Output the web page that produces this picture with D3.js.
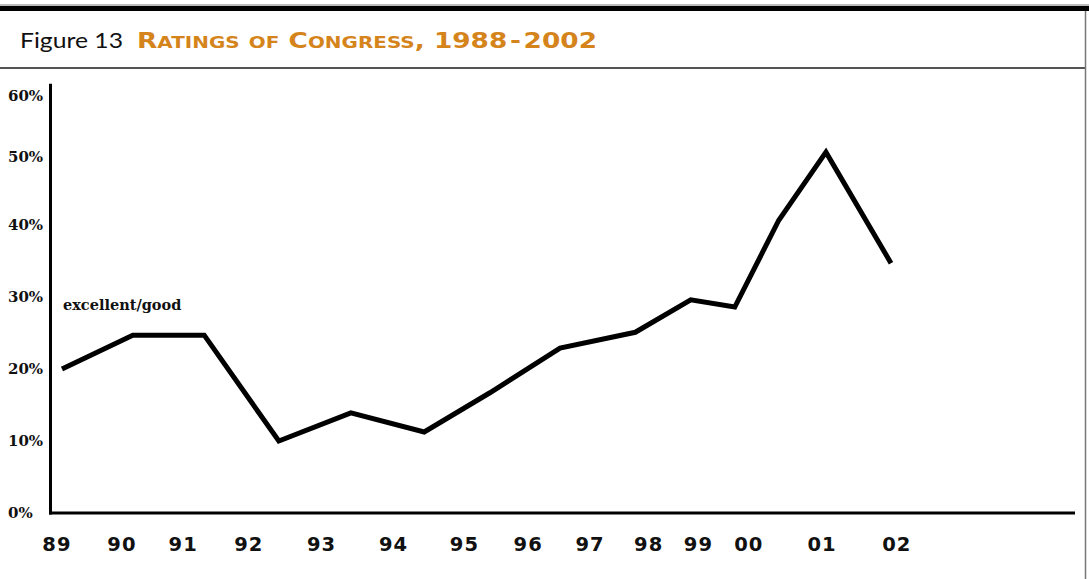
<!DOCTYPE html>
<html>
<head>
<meta charset="utf-8">
<script src="https://cdn.jsdelivr.net/npm/d3@7"></script>
<style>
  html, body { margin: 0; padding: 0; background: #fff; }
  svg { display: block; }
</style>
</head>
<body>
<svg id="chart" width="1089" height="579"></svg>
<script>
// ---- data ----
const yearLabels = ["89","90","91","92","93","94","95","96","97","98","99","00","01","02"];
const labelDate  = [1988.92, 1989.94, 1990.90, 1991.93, 1993.07, 1994.20, 1995.31, 1996.31, 1997.28, 1998.20, 1998.98, 1999.77, 2000.92, 2002.09];
const surveyDate = [1989.00, 1990.11, 1991.23, 1992.40, 1993.53, 1994.68, 1995.71, 1996.81, 1997.99, 1998.86, 1999.55, 2000.24, 2000.98, 2002.00];
const excellentGood = [20.0, 24.7, 24.7, 10.0, 13.9, 11.25, 16.7, 22.9, 25.1, 29.6, 28.6, 40.7, 50.8, 34.7];
const yTicks = [0, 10, 20, 30, 40, 50, 60];
const seriesName = "excellent/good";
const figureLabel = "Figure 13";
const titleText = "Ratings of Congress, 1988 - 2002";

// ---- layout ----
const svg = d3.select("#chart");
const W = 1089, H = 579;

// frame
svg.append("rect").attr("x", 0).attr("y", 0).attr("width", W).attr("height", H).attr("fill", "#fff");
svg.append("line").attr("x1", 0).attr("x2", W).attr("y1", 5).attr("y2", 5).attr("stroke", "#777").attr("stroke-width", 1);
svg.append("rect").attr("x", 0).attr("y", 6).attr("width", W).attr("height", 5).attr("fill", "#000");
svg.append("line").attr("x1", 0).attr("x2", 1085).attr("y1", 68).attr("y2", 68).attr("stroke", "#555").attr("stroke-width", 2);
svg.append("line").attr("x1", 1085.5).attr("x2", 1085.5).attr("y1", 11).attr("y2", H).attr("stroke", "#777").attr("stroke-width", 1.5);

// title
svg.append("text")
  .attr("x", 20).attr("y", 48)
  .attr("font-family", "Lato, 'Open Sans', sans-serif")
  .attr("font-size", 22)
  .attr("fill", "#111")
  .attr("textLength", 103).attr("lengthAdjust", "spacingAndGlyphs")
  .text(figureLabel);

const tTitle = svg.append("text")
  .attr("x", 137).attr("y", 48)
  .attr("font-family", "'DejaVu Sans', sans-serif")
  .attr("font-weight", "bold")
  .attr("fill", "#D5841B")
  .attr("textLength", 460).attr("lengthAdjust", "spacingAndGlyphs");
// build small caps manually
const chars = titleText.split("");
chars.forEach((ch, i) => {
  const isSmall = /[a-z]/.test(ch);
  const nearDash = ch === " " && (chars[i - 1] === "-" || chars[i + 1] === "-");
  tTitle.append("tspan")
    .attr("font-size", nearDash ? 6 : (isSmall ? 15.5 : 20.5))
    .text(ch.toUpperCase());
});

// scales
const x = d3.scaleLinear().domain([1989, 2002]).range([62, 891]);
const y = d3.scaleLinear().domain([0, 40, 50, 60]).range([513, 225, 157, 96]);

// axes lines
const axisLeft = 50.5;
svg.append("line")
  .attr("x1", axisLeft).attr("x2", axisLeft)
  .attr("y1", y(62)).attr("y2", y(0) + 1.5)
  .attr("stroke", "#000").attr("stroke-width", 3);
svg.append("line")
  .attr("x1", axisLeft - 1.5).attr("x2", 1075)
  .attr("y1", y(0)).attr("y2", y(0))
  .attr("stroke", "#000").attr("stroke-width", 3);

// y tick labels
svg.append("g").selectAll("text")
  .data(yTicks)
  .join("text")
  .attr("x", 8)
  .attr("y", d => y(d))
  .attr("dy", "0.36em")
  .attr("font-family", "'DejaVu Serif', serif")
  .attr("font-weight", "bold")
  .attr("font-size", 15)
  .attr("fill", "#111")
  .text(d => d + "%");

// x tick labels
svg.append("g").selectAll("text")
  .data(yearLabels)
  .join("text")
  .attr("x", (d, i) => x(labelDate[i]))
  .attr("y", 550.5)
  .attr("text-anchor", "middle")
  .attr("font-family", "'DejaVu Sans', sans-serif")
  .attr("font-weight", "bold")
  .attr("font-size", 19.5)
  .attr("letter-spacing", 1)
  .attr("fill", "#111")
  .text(d => d);

// series label
svg.append("text")
  .attr("x", 63).attr("y", 310)
  .attr("font-family", "'DejaVu Serif', serif")
  .attr("font-weight", "bold")
  .attr("font-size", 14.5)
  .attr("fill", "#111")
  .text(seriesName);

// line
const pts = surveyDate.map((d, i) => [d, excellentGood[i]]);
const line = d3.line().x(d => x(d[0])).y(d => y(d[1]));
svg.append("path")
  .datum(pts)
  .attr("d", line)
  .attr("fill", "none")
  .attr("stroke", "#000")
  .attr("stroke-width", 5)
  .attr("stroke-linejoin", "miter");
</script>
</body>
</html>
